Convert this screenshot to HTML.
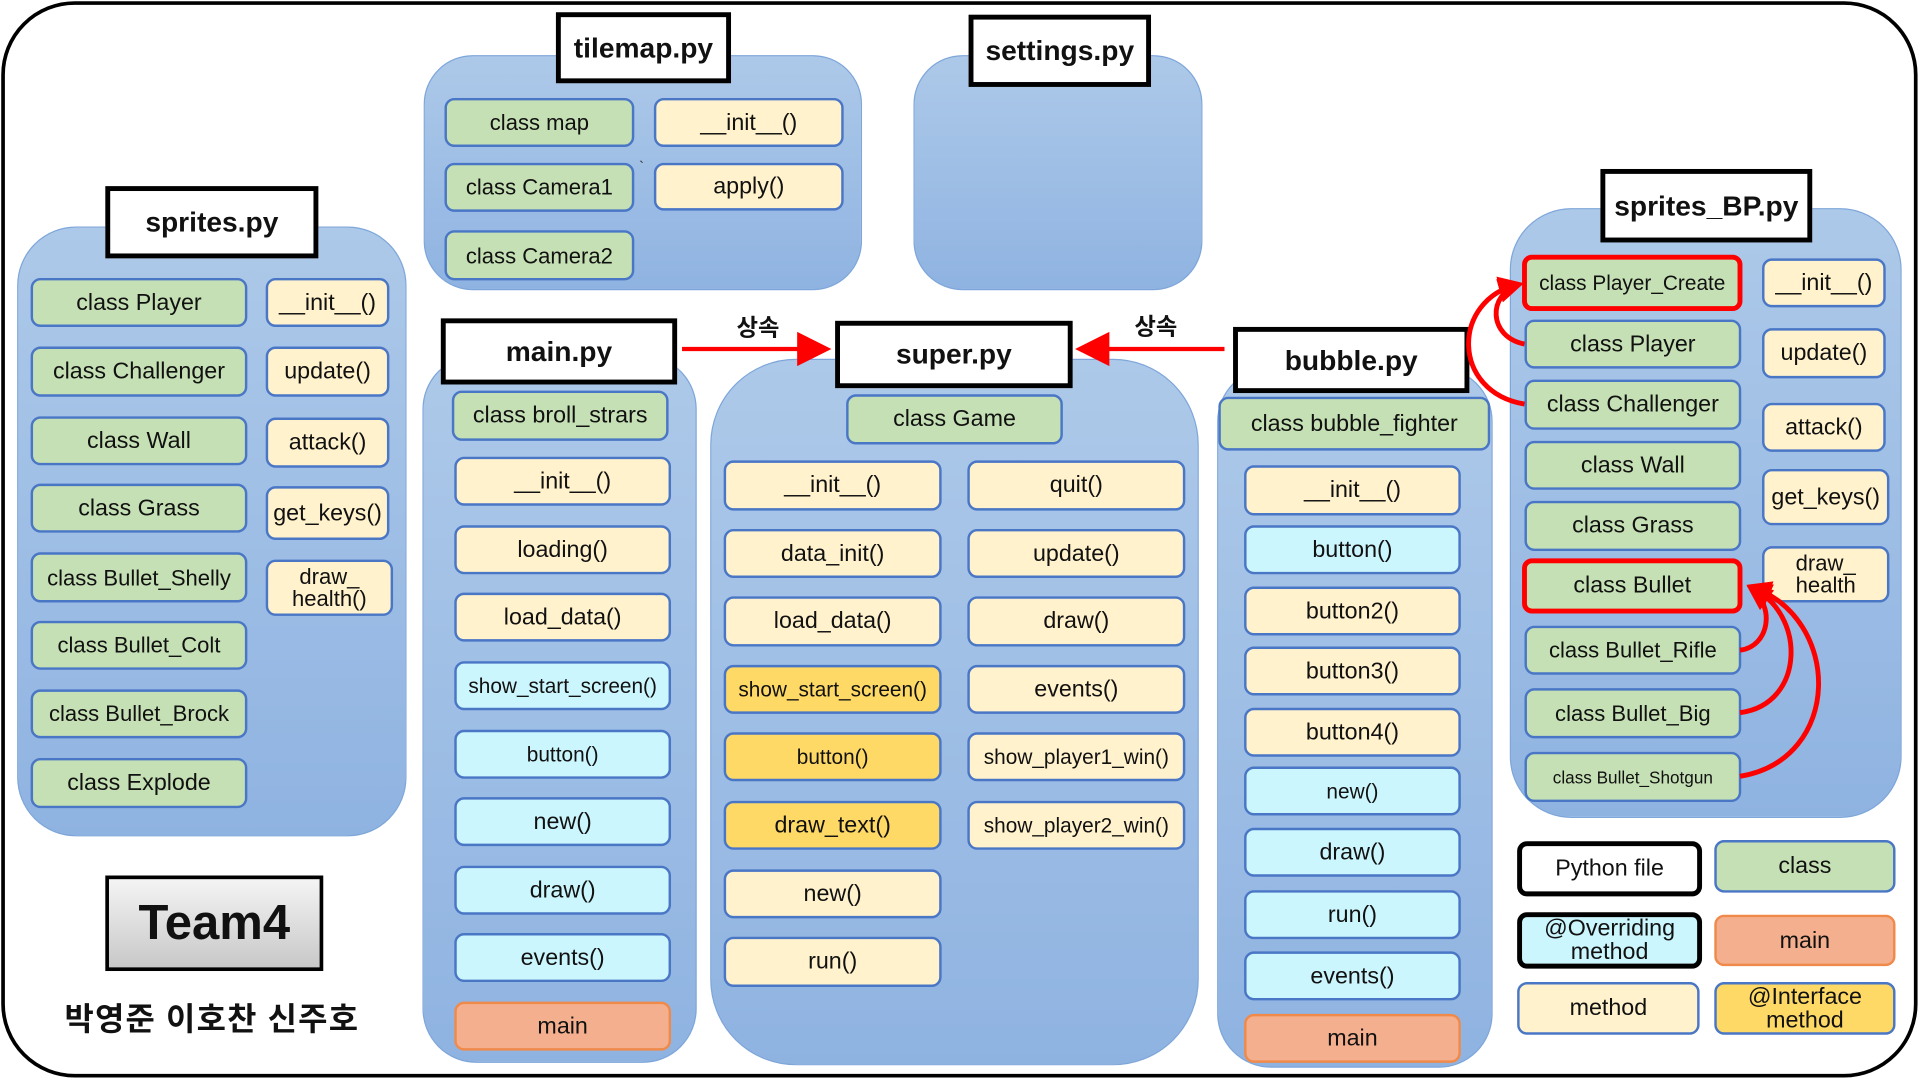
<!DOCTYPE html>
<html><head><meta charset="utf-8">
<style>
html,body{margin:0;padding:0;background:#fff;overflow:hidden;width:1920px;height:1080px}
#s{position:absolute;left:0;top:0;width:1568px;height:882px;transform:scale(1.22449);transform-origin:0 0;font-family:"Liberation Sans","Noto Sans CJK KR",sans-serif;color:#111}
.b{position:absolute;display:flex;align-items:center;justify-content:center;border:2px solid #4a76c6;border-radius:8px;font-size:19px;box-sizing:border-box;text-align:center;line-height:1.0}
.g{background:#c5e0b4}.y{background:#fff2cc}.c{background:#ccf6fd}.o{background:#ffd966}.m{background:#f4b08e;border-color:#f08a4b}
.t{position:absolute;display:flex;align-items:center;justify-content:center;border:4px solid #000;background:#fff;font-weight:bold;font-size:23px;box-sizing:border-box}
.ct{position:absolute;background:linear-gradient(#adc9e9,#8fb3e1);border:1.5px solid #7ea6da;box-sizing:border-box;border-radius:48px}
.r{border:4px solid #f00}
</style></head><body><div id="s">
<div style="position:absolute;left:1px;top:1px;width:1565px;height:879px;border:3px solid #000;border-radius:60px;box-sizing:border-box"></div>

<!-- sprites.py -->
<div class="ct" style="left:14px;top:185px;width:318px;height:498px"></div>
<div class="t" style="left:86px;top:152px;width:174px;height:59px">sprites.py</div>
<div class="b g" style="left:25px;top:227px;width:177px;height:40px">class Player</div>
<div class="b g" style="left:25px;top:283px;width:177px;height:41px">class Challenger</div>
<div class="b g" style="left:25px;top:340px;width:177px;height:40px">class Wall</div>
<div class="b g" style="left:25px;top:395px;width:177px;height:40px">class Grass</div>
<div class="b g" style="left:25px;top:451px;width:177px;height:41px;font-size:18px">class Bullet_Shelly</div>
<div class="b g" style="left:25px;top:507px;width:177px;height:40px;font-size:18px">class Bullet_Colt</div>
<div class="b g" style="left:25px;top:563px;width:177px;height:40px;font-size:18px">class Bullet_Brock</div>
<div class="b g" style="left:25px;top:619px;width:177px;height:41px">class Explode</div>
<div class="b y" style="left:217px;top:227px;width:101px;height:40px">__init__()</div>
<div class="b y" style="left:217px;top:283px;width:101px;height:41px">update()</div>
<div class="b y" style="left:217px;top:341px;width:101px;height:41px">attack()</div>
<div class="b y" style="left:217px;top:397px;width:101px;height:44px">get_keys()</div>
<div class="b y" style="left:217px;top:457px;width:104px;height:46px;font-size:18px">draw_<br>health()</div>

<div style="position:absolute;left:86px;top:715px;width:178px;height:78px;border:3px solid #000;box-sizing:border-box;background:linear-gradient(#f4f4f4,#c8c8c8);display:flex;align-items:center;justify-content:center;font-weight:bold;font-size:40px">Team4</div>
<div style="position:absolute;left:20px;top:812px;width:306px;text-align:center;font-weight:bold;font-size:26px;letter-spacing:1px">박영준 이호찬 신주호</div>

<!-- tilemap -->
<div class="ct" style="left:346px;top:45px;width:358px;height:192px;border-radius:40px"></div>
<div class="t" style="left:454px;top:10px;width:143px;height:58px">tilemap.py</div>
<div class="b g" style="left:363px;top:80px;width:155px;height:40px;font-size:18px">class map</div>
<div class="b g" style="left:363px;top:133px;width:155px;height:40px;font-size:18px">class Camera1</div>
<div class="b g" style="left:363px;top:188px;width:155px;height:41px;font-size:18px">class Camera2</div>
<div class="b y" style="left:534px;top:80px;width:155px;height:40px">__init__()</div>
<div class="b y" style="left:534px;top:133px;width:155px;height:39px">apply()</div>

<!-- settings -->
<div class="ct" style="left:746px;top:45px;width:236px;height:192px;border-radius:40px"></div>
<div class="t" style="left:791px;top:12px;width:149px;height:59px">settings.py</div>

<!-- main.py -->
<div class="ct" style="left:345px;top:290px;width:224px;height:578px;border-radius:44px"></div>
<div class="t" style="left:360px;top:260px;width:193px;height:54px">main.py</div>
<div class="b g" style="left:369px;top:319px;width:177px;height:41px">class broll_strars</div>
<div class="b y" style="left:371px;top:373px;width:177px;height:40px">__init__()</div>
<div class="b y" style="left:371px;top:429px;width:177px;height:40px">loading()</div>
<div class="b y" style="left:371px;top:484px;width:177px;height:40px">load_data()</div>
<div class="b c" style="left:371px;top:540px;width:177px;height:40px;font-size:17px">show_start_screen()</div>
<div class="b c" style="left:371px;top:596px;width:177px;height:40px;font-size:17px">button()</div>
<div class="b c" style="left:371px;top:651px;width:177px;height:40px">new()</div>
<div class="b c" style="left:371px;top:707px;width:177px;height:40px">draw()</div>
<div class="b c" style="left:371px;top:762px;width:177px;height:40px">events()</div>
<div class="b m" style="left:371px;top:818px;width:177px;height:40px">main</div>

<!-- super.py -->
<div class="ct" style="left:580px;top:293px;width:399px;height:577px;border-radius:70px"></div>
<div class="t" style="left:682px;top:262px;width:194px;height:55px">super.py</div>
<div class="b g" style="left:691px;top:322px;width:177px;height:41px">class Game</div>
<div class="b y" style="left:591px;top:376px;width:178px;height:41px">__init__()</div>
<div class="b y" style="left:591px;top:432px;width:178px;height:40px">data_init()</div>
<div class="b y" style="left:591px;top:487px;width:178px;height:41px">load_data()</div>
<div class="b o" style="left:591px;top:543px;width:178px;height:40px;font-size:17px">show_start_screen()</div>
<div class="b o" style="left:591px;top:598px;width:178px;height:40px;font-size:17px">button()</div>
<div class="b o" style="left:591px;top:654px;width:178px;height:40px">draw_text()</div>
<div class="b y" style="left:591px;top:710px;width:178px;height:40px">new()</div>
<div class="b y" style="left:591px;top:765px;width:178px;height:41px">run()</div>
<div class="b y" style="left:790px;top:376px;width:178px;height:41px">quit()</div>
<div class="b y" style="left:790px;top:432px;width:178px;height:40px">update()</div>
<div class="b y" style="left:790px;top:487px;width:178px;height:41px">draw()</div>
<div class="b y" style="left:790px;top:543px;width:178px;height:40px">events()</div>
<div class="b y" style="left:790px;top:598px;width:178px;height:40px;font-size:17px">show_player1_win()</div>
<div class="b y" style="left:790px;top:654px;width:178px;height:40px;font-size:17px">show_player2_win()</div>

<!-- bubble.py -->
<div class="ct" style="left:994px;top:300px;width:225px;height:572px;border-radius:44px"></div>
<div class="t" style="left:1007px;top:267px;width:193px;height:54px">bubble.py</div>
<div class="b g" style="left:995px;top:324px;width:222px;height:44px">class bubble_fighter</div>
<div class="b y" style="left:1016px;top:380px;width:177px;height:41px">__init__()</div>
<div class="b c" style="left:1016px;top:429px;width:177px;height:40px">button()</div>
<div class="b y" style="left:1016px;top:479px;width:177px;height:40px">button2()</div>
<div class="b y" style="left:1016px;top:528px;width:177px;height:40px">button3()</div>
<div class="b y" style="left:1016px;top:578px;width:177px;height:40px">button4()</div>
<div class="b c" style="left:1016px;top:626px;width:177px;height:40px;font-size:17px">new()</div>
<div class="b c" style="left:1016px;top:676px;width:177px;height:40px">draw()</div>
<div class="b c" style="left:1016px;top:727px;width:177px;height:40px">run()</div>
<div class="b c" style="left:1016px;top:777px;width:177px;height:40px">events()</div>
<div class="b m" style="left:1016px;top:828px;width:177px;height:40px">main</div>

<!-- sprites_BP -->
<div class="ct" style="left:1233px;top:170px;width:320px;height:498px;border-radius:50px"></div>
<div class="t" style="left:1307px;top:138px;width:173px;height:60px">sprites_BP.py</div>
<div class="b g r" style="left:1243px;top:208px;width:180px;height:46px;font-size:17px">class Player_Create</div>
<div class="b g" style="left:1245px;top:261px;width:177px;height:40px">class Player</div>
<div class="b g" style="left:1245px;top:310px;width:177px;height:41px">class Challenger</div>
<div class="b g" style="left:1245px;top:360px;width:177px;height:40px">class Wall</div>
<div class="b g" style="left:1245px;top:409px;width:177px;height:41px">class Grass</div>
<div class="b g r" style="left:1243px;top:456px;width:180px;height:45px">class Bullet</div>
<div class="b g" style="left:1245px;top:511px;width:177px;height:40px;font-size:18px">class Bullet_Rifle</div>
<div class="b g" style="left:1245px;top:562px;width:177px;height:41px;font-size:18px">class Bullet_Big</div>
<div class="b g" style="left:1245px;top:614px;width:177px;height:41px;font-size:14px">class Bullet_Shotgun</div>
<div class="b y" style="left:1439px;top:211px;width:101px;height:40px">__init__()</div>
<div class="b y" style="left:1439px;top:268px;width:101px;height:41px">update()</div>
<div class="b y" style="left:1439px;top:329px;width:101px;height:40px">attack()</div>
<div class="b y" style="left:1439px;top:383px;width:104px;height:46px">get_keys()</div>
<div class="b y" style="left:1439px;top:446px;width:104px;height:46px;font-size:18px">draw_<br>health</div>

<!-- legend -->
<div class="b" style="left:1239px;top:687px;width:151px;height:45px;border:4px solid #000;background:#fff;border-radius:8px">Python file</div>
<div class="b g" style="left:1400px;top:686px;width:148px;height:43px">class</div>
<div class="b c" style="left:1239px;top:745px;width:151px;height:46px;border:4px solid #000">@Overriding<br>method</div>
<div class="b m" style="left:1400px;top:747px;width:148px;height:42px">main</div>
<div class="b y" style="left:1239px;top:802px;width:149px;height:43px">method</div>
<div class="b o" style="left:1400px;top:802px;width:148px;height:43px">@Interface<br>method</div>

<svg style="position:absolute;left:0;top:0" width="1568" height="882">
<defs><marker id="a" markerWidth="8" markerHeight="8" refX="6" refY="4" orient="auto" markerUnits="strokeWidth"><path d="M0,0 L8,4 L0,8 z" fill="#f00"/></marker>
<marker id="a2" markerWidth="5" markerHeight="5" refX="4" refY="2.5" orient="auto" markerUnits="strokeWidth"><path d="M0,0 L5,2.5 L0,5 z" fill="#f00"/></marker></defs>
<g stroke="#f00" stroke-width="3.5" fill="none">
<line x1="557" y1="285" x2="672" y2="285" marker-end="url(#a)"/>
<line x1="1000" y1="285" x2="885" y2="285" marker-end="url(#a)"/>
</g>
<g stroke="#f00" stroke-width="4" fill="none">
<path d="M1245,281 C1215,275 1215,240 1240,233" marker-end="url(#a2)"/>
<path d="M1245,330 C1185,320 1185,245 1240,232" marker-end="url(#a2)"/>
<path d="M1421,531 C1445,528 1450,495 1430,481" marker-end="url(#a2)"/>
<path d="M1421,582 C1475,575 1475,500 1430,480" marker-end="url(#a2)"/>
<path d="M1421,634 C1505,620 1505,505 1430,479" marker-end="url(#a2)"/>
</g>
<g font-family="Liberation Sans, Noto Sans CJK KR, sans-serif" font-weight="bold" font-size="19" text-anchor="middle" fill="#111">
<text x="619" y="274">상속</text><text x="944" y="273">상속</text>
</g>
<text x="522" y="140" font-size="12" fill="#333">`</text>
</svg>
</div></body></html>
